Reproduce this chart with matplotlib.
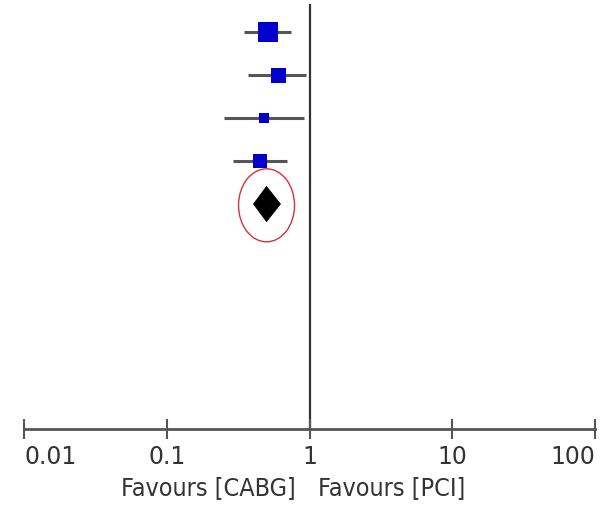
import numpy as np
import matplotlib.pyplot as plt
from matplotlib.patches import Ellipse, Polygon
from matplotlib.transforms import ScaledTranslation, blended_transform_factory

# study estimates (odds ratios) with 95% CI, and study weights (%)
estimates = [0.51, 0.60, 0.48, 0.45]
ci_low = [0.35, 0.37, 0.25, 0.29]
ci_high = [0.74, 0.94, 0.91, 0.70]
weights = [44, 25, 12, 19]

# pooled estimate
pooled = 0.50
pooled_low = 0.405
pooled_high = 0.626

tick_values = [0.01, 0.1, 1, 10, 100]
tick_labels = ['0.01', '0.1', '1', '10', '100']

fig = plt.figure(figsize=(6.09, 5.06), dpi=100)
ax = fig.add_axes([24 / 609, 1 - 430 / 506, 571 / 609, 425 / 506])
ax.set_xscale('log')
ax.set_xlim(0.01, 100)
ax.set_ylim(9.23, -0.65)

rows = np.arange(len(estimates))
for r, est, lo, hi, w in zip(rows, estimates, ci_low, ci_high, weights):
    ax.plot([lo, hi], [r, r], color='#555555', lw=2.2, solid_capstyle='butt', zorder=2)
    ax.plot(est, r, marker='s', color='#0000cc', markersize=3 * np.sqrt(w) * 0.72,
            markeredgewidth=0, zorder=3)

# pooled diamond
pr = len(estimates)
half_h = 0.41
diamond = Polygon([[pooled_low, pr], [pooled, pr - half_h], [pooled_high, pr], [pooled, pr + half_h]],
                  closed=True, facecolor='black', edgecolor='black', lw=0.5, zorder=3)
ax.add_patch(diamond)

# red ring around the pooled result
ring_tr = fig.dpi_scale_trans + ScaledTranslation(pooled, pr + 0.03, ax.transData)
ax.add_patch(Ellipse((0, 0), width=0.56, height=0.73, transform=ring_tr,
                     fill=False, edgecolor='#d8313a', lw=1.0, zorder=4))

# line of no effect
ax.axvline(1, color='#333333', lw=1.6, zorder=1)

for s in ['top', 'right', 'left']:
    ax.spines[s].set_visible(False)
ax.spines['bottom'].set_color('#555555')
ax.spines['bottom'].set_linewidth(2.0)
ax.set_yticks([])
ax.xaxis.set_minor_locator(plt.NullLocator())
ax.set_xticks(tick_values)
ax.set_xticklabels(tick_labels, fontsize=17, color='#333333')
ax.tick_params(axis='x', direction='inout', length=15, width=1.5, color='#555555', pad=3)
labels = ax.get_xticklabels()
labels[0].set_ha('left')
labels[-1].set_ha('right')

tr = blended_transform_factory(ax.transData, fig.transFigure)
ax.text(0.80, 1 - 488 / 506, 'Favours [CABG]', transform=tr, ha='right', va='center',
        fontsize=18, fontstretch='condensed', color='#333333')
ax.text(1.156, 1 - 488 / 506, 'Favours [PCI]', transform=tr, ha='left', va='center',
        fontsize=18, fontstretch='condensed', color='#333333')

fig.savefig('out.png', dpi=100)
